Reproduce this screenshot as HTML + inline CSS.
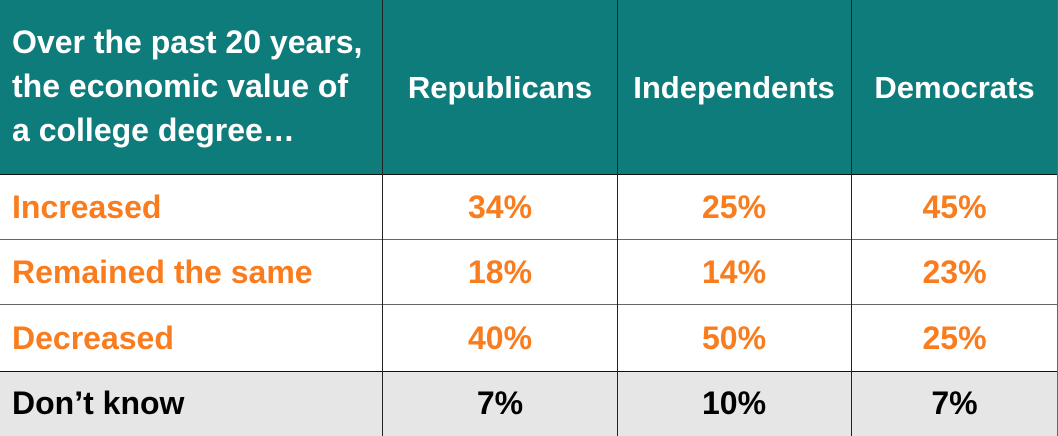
<!DOCTYPE html>
<html><head><meta charset="utf-8"><style>
body{margin:0;width:1058px;height:436px;overflow:hidden;background:#fff;font-family:"Liberation Sans",sans-serif;font-weight:bold}
.c{position:absolute;box-sizing:border-box;display:flex;align-items:center;justify-content:center;font-size:32px;white-space:nowrap}
.h{background:#0E7C7B;color:#fff;font-size:31px}
.l{justify-content:flex-start;padding-left:12px}
.o{color:#F97C1E}
.g{background:#E6E6E6;color:#000}
.v{position:absolute;width:1px;background:#222;top:0;height:436px}
.hl{position:absolute;height:1px;background:#333;left:0;width:1058px}
</style></head><body>
<div class="c h l" style="left:0;top:0;width:383px;height:175px;font-size:32px;line-height:44px;padding-bottom:4px">Over the past 20 years,<br>the economic value of<br>a college degree…</div>
<div class="c h" style="left:383px;top:0;width:234px;height:175px">Republicans</div>
<div class="c h" style="left:617px;top:0;width:234px;height:175px">Independents</div>
<div class="c h" style="left:851px;top:0;width:207px;height:175px">Democrats</div>

<div class="c l o" style="left:0;top:175px;width:383px;height:65px">Increased</div>
<div class="c o" style="left:383px;top:175px;width:234px;height:65px">34%</div>
<div class="c o" style="left:617px;top:175px;width:234px;height:65px">25%</div>
<div class="c o" style="left:851px;top:175px;width:207px;height:65px">45%</div>

<div class="c l o" style="left:0;top:240px;width:383px;height:65px">Remained the same</div>
<div class="c o" style="left:383px;top:240px;width:234px;height:65px">18%</div>
<div class="c o" style="left:617px;top:240px;width:234px;height:65px">14%</div>
<div class="c o" style="left:851px;top:240px;width:207px;height:65px">23%</div>

<div class="c l o" style="left:0;top:305px;width:383px;height:66px">Decreased</div>
<div class="c o" style="left:383px;top:305px;width:234px;height:66px">40%</div>
<div class="c o" style="left:617px;top:305px;width:234px;height:66px">50%</div>
<div class="c o" style="left:851px;top:305px;width:207px;height:66px">25%</div>

<div class="c l g" style="left:0;top:371px;width:383px;height:65px">Don’t know</div>
<div class="c g" style="left:383px;top:371px;width:234px;height:65px">7%</div>
<div class="c g" style="left:617px;top:371px;width:234px;height:65px">10%</div>
<div class="c g" style="left:851px;top:371px;width:207px;height:65px">7%</div>

<div class="hl" style="top:174px;background:#111"></div>
<div class="hl" style="top:239px;background:#666"></div>
<div class="hl" style="top:304px;background:#666"></div>
<div class="hl" style="top:371px;background:#111"></div>
<div class="v" style="left:382px"></div>
<div class="v" style="left:617px"></div>
<div class="v" style="left:851px"></div>
<div class="v" style="left:1057px;background:#666"></div>
</body></html>
